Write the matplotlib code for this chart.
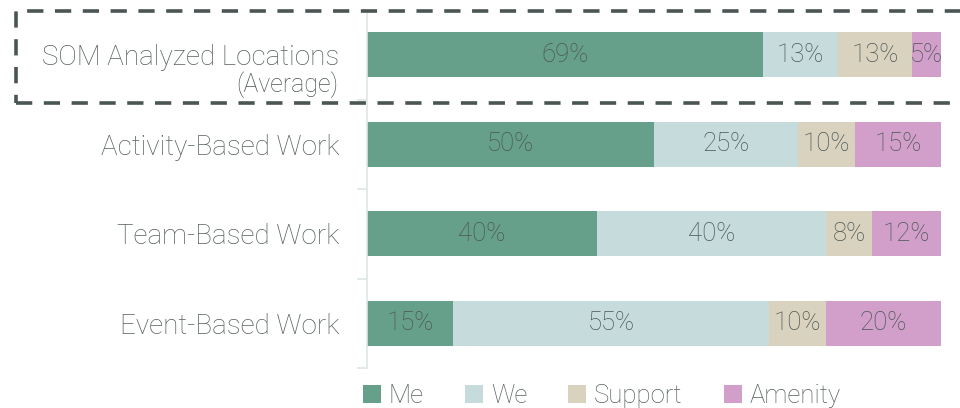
import matplotlib
matplotlib.use("Agg")
import matplotlib.pyplot as plt
from matplotlib.patches import Rectangle, Patch

categories = ["SOM Analyzed Locations", "Activity-Based Work", "Team-Based Work", "Event-Based Work"]
series = ["Me", "We", "Support", "Amenity"]
me = [69, 50, 40, 15]
we = [13, 25, 40, 55]
support = [13, 10, 8, 10]
amenity = [5, 15, 12, 20]

colors = ["#67a08a", "#c5dbdc", "#d9d2bf", "#d19fca"]
text_color = "#4b5654"
label_color = "#56615e"

plt.rcParams["font.family"] = ["Roboto", "DejaVu Sans"]
plt.rcParams["font.weight"] = "light"

fig = plt.figure(figsize=(9.6, 4.08), dpi=100)
ax = fig.add_axes([367 / 960, 40 / 408, 574 / 960, 358 / 408])

y = list(range(len(categories)))
left = [0] * len(categories)
for name, vals, col in zip(series, [me, we, support, amenity], colors):
    bars = ax.barh(y, vals, left=left, height=0.5, color=col, label=name)
    for b, v in zip(bars, vals):
        ax.text(b.get_x() + b.get_width() / 2, b.get_y() + b.get_height() / 2,
                f"{v}%", ha="center", va="center", fontsize=18.5,
                color=text_color)
    left = [l + v for l, v in zip(left, vals)]

ax.set_xlim(0, 100)
ax.set_ylim(3.5, -0.5)
ax.set_xticks([])
ax.set_yticks(y)
ax.set_yticklabels(categories, fontsize=20, color=label_color)
ax.tick_params(axis="y", which="major", length=0, pad=20)
ax.set_yticks([0.5, 1.5, 2.5, 3.5], minor=True)
ax.tick_params(axis="y", which="minor", length=7, width=1.2, color="#dfe6e4")
for s in ["top", "right", "bottom"]:
    ax.spines[s].set_visible(False)
ax.spines["left"].set_color("#dfe6e4")
ax.spines["left"].set_linewidth(1.2)

# subtitle under the average row label
ax.text(-0.049, 0.33, "(Average)", transform=ax.get_yaxis_transform(),
        ha="right", va="center", fontsize=18, color=text_color)

# dashed frame around the average row
frame = Rectangle((16 / 960, (408 - 103) / 408), 1.0, 92 / 408,
                  transform=fig.transFigure, fill=False, edgecolor="#4b5654",
                  linewidth=2.6, linestyle=(0, (4.5, 3.2)), clip_on=False)
fig.patches.append(frame)

handles = [Patch(facecolor=c, edgecolor="none") for c in colors]
fig.legend(handles, series, loc="center left", bbox_to_anchor=(340 / 960, 12 / 408),
           ncol=4, frameon=False, fontsize=18.5, handlelength=0.7, handleheight=0.7,
           handletextpad=0.3, columnspacing=1.6, labelcolor=label_color)

fig.savefig("out.png", dpi=100)
